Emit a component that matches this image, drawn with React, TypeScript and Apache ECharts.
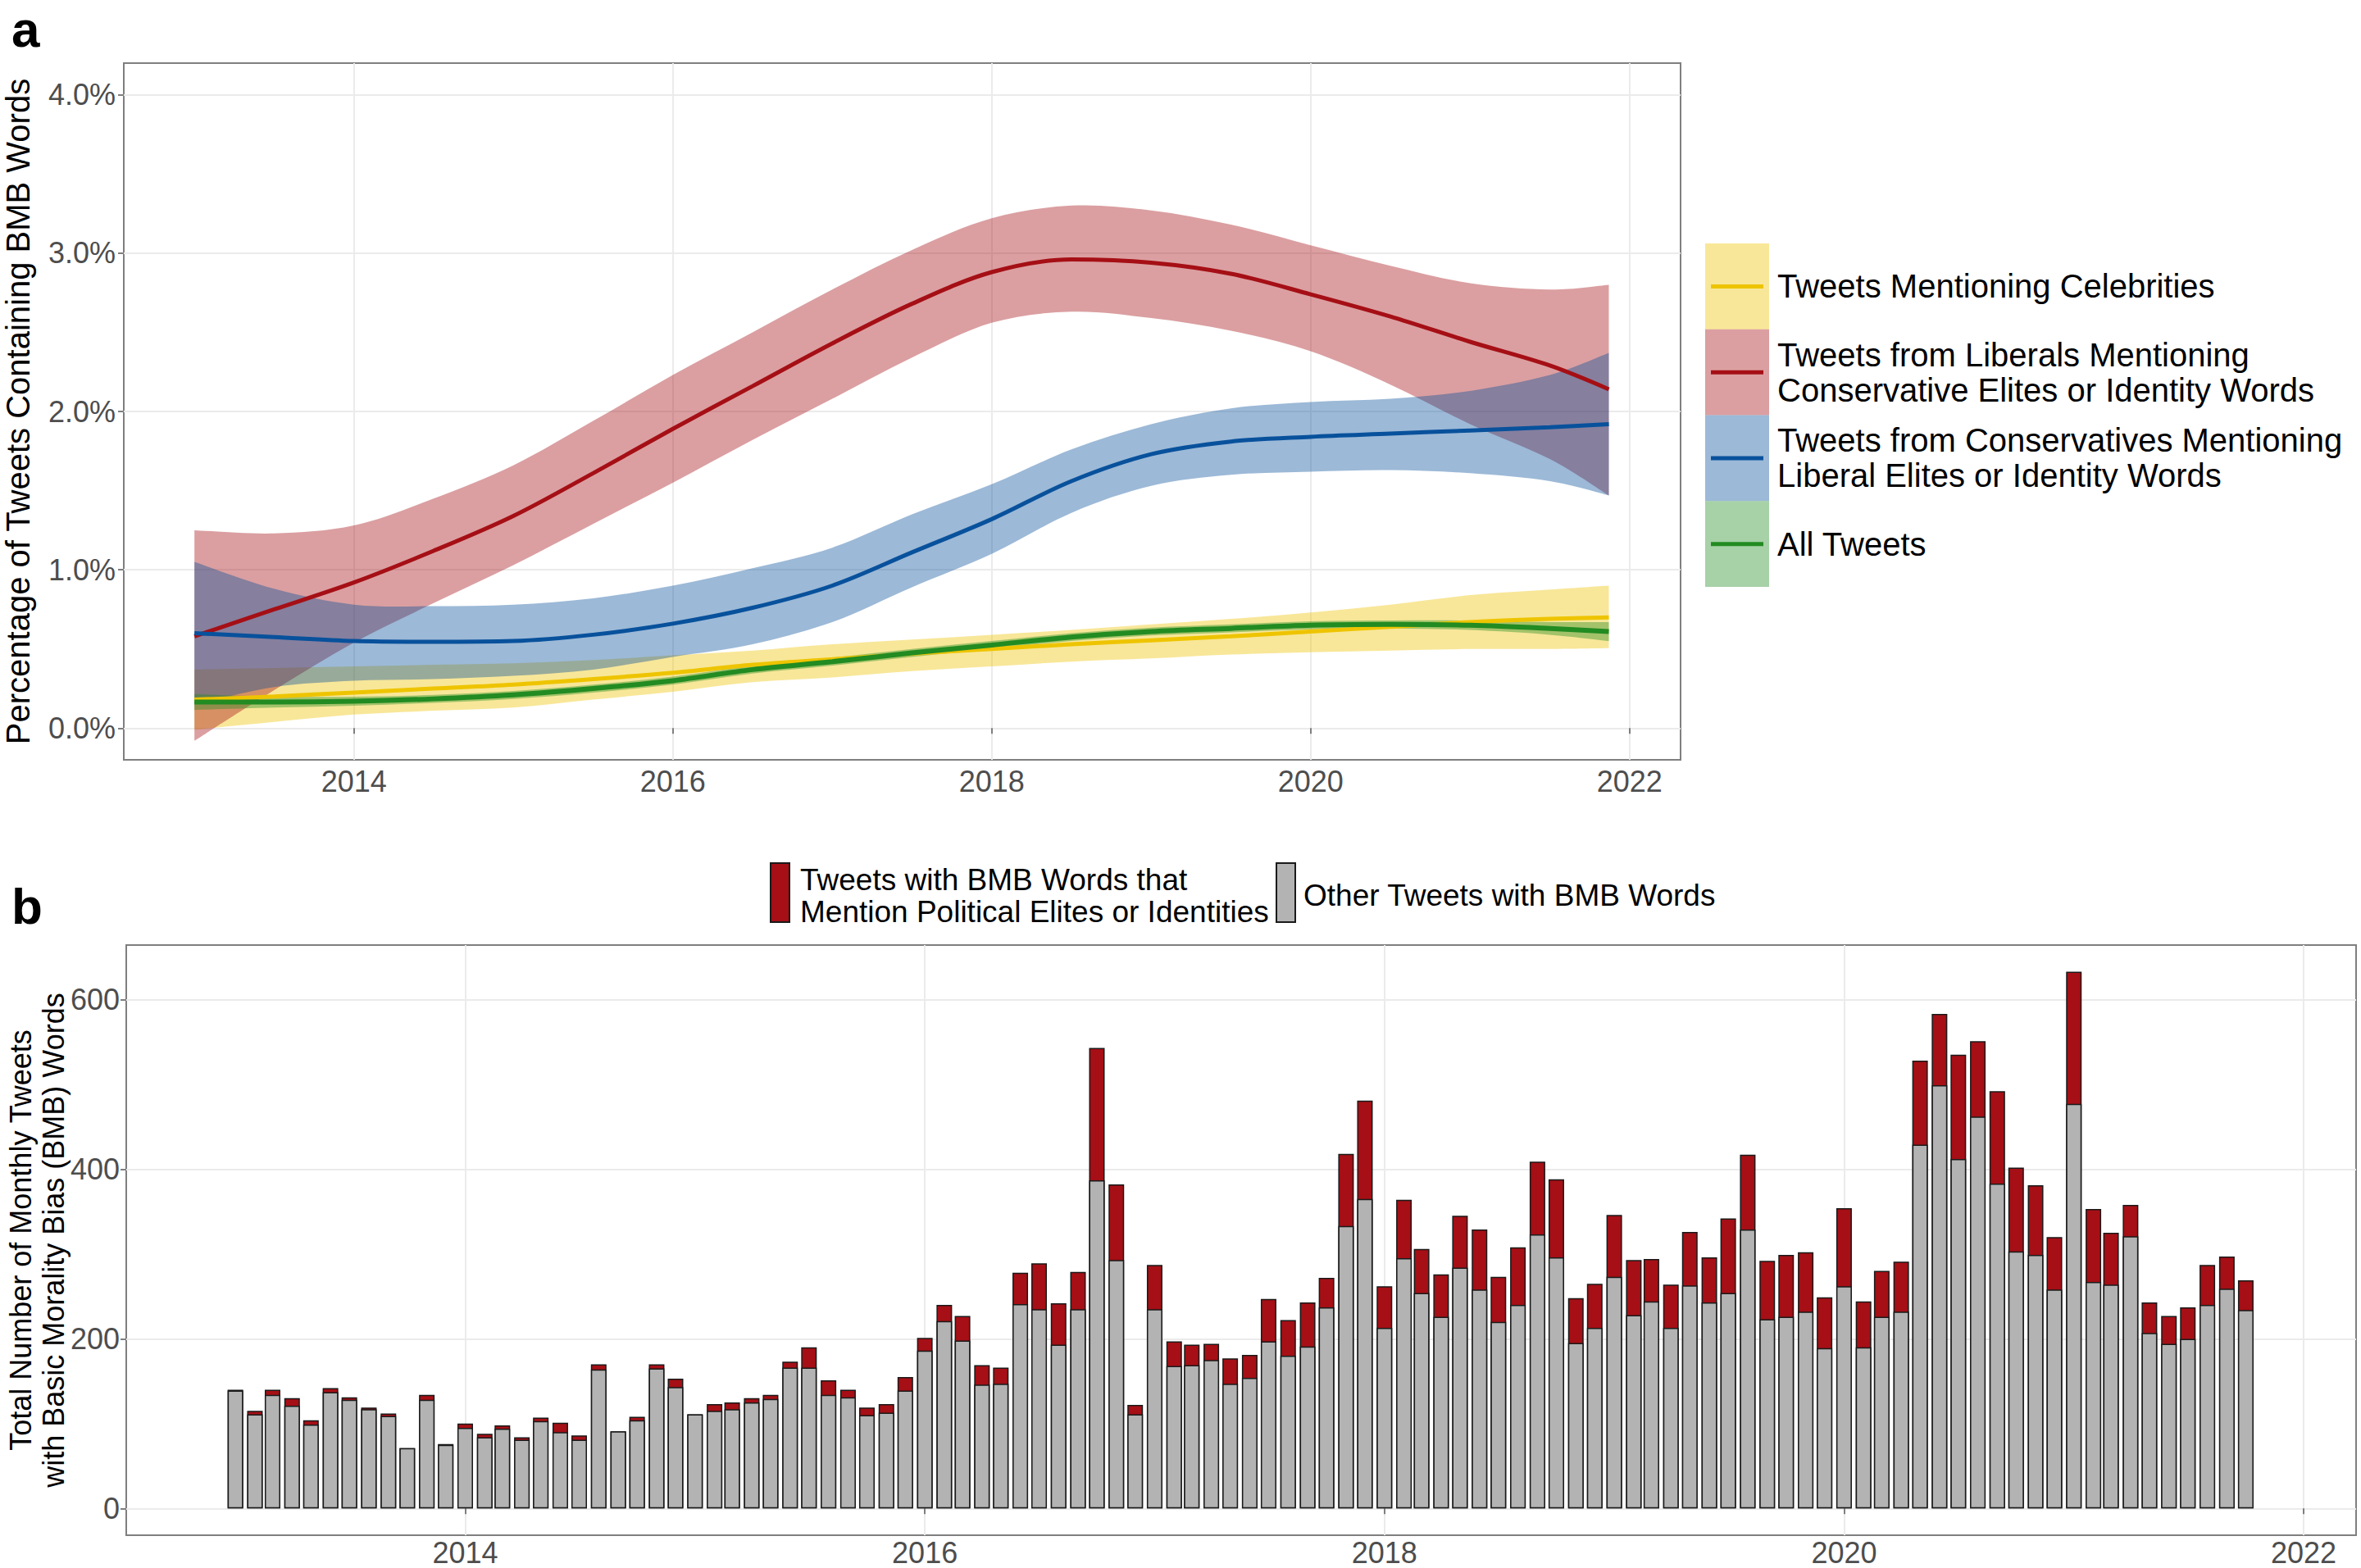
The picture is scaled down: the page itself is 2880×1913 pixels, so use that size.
import React, { useEffect, useRef } from 'react';
import * as echarts from 'echarts';

const FONT = '"Liberation Sans", Arial, Helvetica, sans-serif';

// ---------- Panel a: smoothed percentages (decimal years) ----------
const curveYears = [2013.0, 2013.5, 2014.0, 2014.5, 2015.0, 2015.5, 2016.0, 2016.5, 2017.0, 2017.5, 2018.0, 2018.5, 2019.0, 2019.5, 2020.0, 2020.5, 2021.0, 2021.5, 2021.87];

const celebMid = [0.18, 0.20, 0.225, 0.25, 0.275, 0.31, 0.35, 0.40, 0.435, 0.47, 0.50, 0.53, 0.555, 0.58, 0.61, 0.64, 0.67, 0.69, 0.70];
const celebLo = [-0.01, 0.04, 0.086, 0.11, 0.13, 0.18, 0.23, 0.29, 0.32, 0.36, 0.39, 0.42, 0.44, 0.465, 0.48, 0.49, 0.50, 0.50, 0.505];
const celebHi = [0.37, 0.38, 0.39, 0.40, 0.41, 0.43, 0.46, 0.49, 0.53, 0.56, 0.59, 0.62, 0.655, 0.69, 0.73, 0.78, 0.84, 0.875, 0.90];

const libMid = [0.58, 0.75, 0.92, 1.12, 1.34, 1.61, 1.89, 2.16, 2.43, 2.68, 2.88, 2.96, 2.94, 2.87, 2.74, 2.60, 2.44, 2.29, 2.14];
const libLo = [-0.08, 0.24, 0.54, 0.79, 1.03, 1.29, 1.55, 1.82, 2.08, 2.34, 2.56, 2.63, 2.59, 2.51, 2.38, 2.17, 1.92, 1.70, 1.47];
const libHi = [1.25, 1.23, 1.28, 1.45, 1.66, 1.94, 2.23, 2.50, 2.77, 3.02, 3.22, 3.30, 3.27, 3.18, 3.05, 2.92, 2.81, 2.77, 2.80];

const consMid = [0.60, 0.575, 0.55, 0.545, 0.55, 0.59, 0.66, 0.76, 0.90, 1.11, 1.32, 1.56, 1.73, 1.81, 1.84, 1.86, 1.88, 1.90, 1.92];
const consLo = [0.15, 0.26, 0.30, 0.31, 0.33, 0.37, 0.45, 0.53, 0.67, 0.89, 1.10, 1.36, 1.53, 1.60, 1.62, 1.63, 1.61, 1.56, 1.47];
const consHi = [1.05, 0.88, 0.78, 0.77, 0.78, 0.82, 0.90, 1.01, 1.14, 1.35, 1.54, 1.76, 1.92, 2.02, 2.06, 2.08, 2.13, 2.23, 2.37];

const allMid = [0.165, 0.165, 0.17, 0.185, 0.21, 0.25, 0.30, 0.37, 0.42, 0.475, 0.525, 0.575, 0.61, 0.63, 0.65, 0.655, 0.65, 0.63, 0.61];
const allLo = [0.115, 0.13, 0.142, 0.16, 0.185, 0.225, 0.275, 0.345, 0.395, 0.45, 0.50, 0.55, 0.585, 0.605, 0.625, 0.63, 0.62, 0.59, 0.55];
const allHi = [0.215, 0.20, 0.198, 0.21, 0.235, 0.275, 0.325, 0.395, 0.445, 0.50, 0.55, 0.60, 0.635, 0.655, 0.675, 0.68, 0.68, 0.67, 0.67];

const curveNames = [
  'Tweets Mentioning Celebrities',
  'Tweets from Liberals Mentioning Conservative Elites or Identity Words',
  'Tweets from Conservatives Mentioning Liberal Elites or Identity Words',
  'All Tweets',
];
const curveColors = ['#EEC400', '#A50F15', '#08519C', '#228B22'];
const bandColors = ['rgba(238,196,0,0.4)', 'rgba(165,15,21,0.4)', 'rgba(8,81,156,0.4)', 'rgba(34,139,34,0.4)'];

const aYearTicks = [2014, 2016, 2018, 2020, 2022];
const aPctTicks = [0, 1, 2, 3, 4];

// ---------- Panel b: monthly counts ----------
const barMonths = [
  '2013-01','2013-02','2013-03','2013-04','2013-05','2013-06','2013-07','2013-08','2013-09','2013-10','2013-11','2013-12',
  '2014-01','2014-02','2014-03','2014-04','2014-05','2014-06','2014-07','2014-08','2014-09','2014-10','2014-11','2014-12',
  '2015-01','2015-02','2015-03','2015-04','2015-05','2015-06','2015-07','2015-08','2015-09','2015-10','2015-11','2015-12',
  '2016-01','2016-02','2016-03','2016-04','2016-05','2016-06','2016-07','2016-08','2016-09','2016-10','2016-11','2016-12',
  '2017-01','2017-02','2017-03','2017-04','2017-05','2017-06','2017-07','2017-08','2017-09','2017-10','2017-11','2017-12',
  '2018-01','2018-02','2018-03','2018-04','2018-05','2018-06','2018-07','2018-08','2018-09','2018-10','2018-11','2018-12',
  '2019-01','2019-02','2019-03','2019-04','2019-05','2019-06','2019-07','2019-08','2019-09','2019-10','2019-11','2019-12',
  '2020-01','2020-02','2020-03','2020-04','2020-05','2020-06','2020-07','2020-08','2020-09','2020-10','2020-11','2020-12',
  '2021-01','2021-02','2021-03','2021-04','2021-05','2021-06','2021-07','2021-08','2021-09','2021-10',
];

const otherCounts = [
  139, 111, 134, 121, 99, 137, 128, 117, 109, 71, 128, 75,
  95, 84, 94, 81, 103, 90, 81, 164, 91, 104, 165, 143,
  111, 115, 117, 125, 129, 166, 166, 134, 131, 110, 113, 139,
  186, 221, 198, 146, 147, 241, 235, 193, 235, 387, 293, 111,
  235, 168, 169, 175, 147, 154, 197, 180, 191, 237, 333, 365,
  213, 295, 254, 226, 284, 258, 220, 240, 323, 296, 195, 213,
  273, 228, 244, 213, 263, 243, 254, 329, 223, 226, 232, 189,
  262, 190, 226, 232, 429, 499, 412, 462, 383, 303, 299, 258,
  477, 267, 264, 321, 207, 194, 200, 240, 259, 234,
];

const politicalCounts = [
  1, 4, 6, 9, 5, 5, 3, 2, 3, 0, 6, 1,
  5, 4, 4, 3, 4, 11, 5, 6, 0, 4, 5, 10,
  0, 8, 8, 5, 5, 7, 24, 17, 9, 9, 10, 16,
  15, 19, 29, 23, 19, 37, 54, 49, 44, 156, 89, 11,
  52, 29, 24, 19, 30, 27, 50, 42, 52, 35, 85, 116,
  49, 69, 52, 50, 61, 71, 53, 68, 86, 92, 53, 52,
  73, 65, 50, 51, 63, 53, 88, 88, 69, 73, 70, 60,
  92, 54, 54, 59, 99, 84, 123, 89, 109, 99, 82, 62,
  156, 86, 61, 37, 36, 33, 37, 47, 38, 35,
];

const bYearTicks = [2014, 2016, 2018, 2020, 2022];
const bCountTicks = [0, 200, 400, 600];
const bTitleLines = ['Total Number of Monthly Tweets', 'with Basic Morality Bias (BMB) Words'];

const toDecYear = (s: string) => {
  const [y, m] = s.split('-').map(Number);
  const start = Date.UTC(y, 0, 1);
  const end = Date.UTC(y + 1, 0, 1);
  return y + (Date.UTC(y, m - 1, 1) - start) / (end - start);
};

const GRID_A = { left: 151, top: 77, width: 1899, height: 850 };
const GRID_B = { left: 154, top: 1153, width: 2720, height: 720 };

// Catmull-Rom spline through screen points, as SVG path commands
function splinePath(pts: number[][], first: boolean) {
  let d = (first ? 'M' : 'L') + pts[0][0].toFixed(2) + ',' + pts[0][1].toFixed(2);
  for (let i = 0; i < pts.length - 1; i++) {
    const p0 = pts[i - 1] || pts[i];
    const p1 = pts[i];
    const p2 = pts[i + 1];
    const p3 = pts[i + 2] || pts[i + 1];
    const c1x = p1[0] + (p2[0] - p0[0]) / 6;
    const c1y = p1[1] + (p2[1] - p0[1]) / 6;
    const c2x = p2[0] - (p3[0] - p1[0]) / 6;
    const c2y = p2[1] - (p3[1] - p1[1]) / 6;
    d += ` C${c1x.toFixed(2)},${c1y.toFixed(2)} ${c2x.toFixed(2)},${c2y.toFixed(2)} ${p2[0].toFixed(2)},${p2[1].toFixed(2)}`;
  }
  return d;
}

function bandSeries(gi: number, lo: number[], hi: number[]) {
  return {
    type: 'custom', xAxisIndex: 0, yAxisIndex: 0, silent: true, clip: true,
    data: curveYears.map((x, i) => [x, lo[i], hi[i]]),
    encode: { x: 0, y: [1, 2] },
    renderItem: (params: any, api: any) => {
      if (params.dataIndexInside !== 0) return { type: 'group', children: [] };
      const n = params.dataInsideLength;
      const up: number[][] = [];
      const dn: number[][] = [];
      for (let i = 0; i < n; i++) {
        const x = api.value(0, i);
        up.push(api.coord([x, api.value(2, i)]));
        dn.push(api.coord([x, api.value(1, i)]));
      }
      const d = splinePath(up, true) + ' ' + splinePath(dn.reverse(), false) + ' Z';
      return { type: 'path', shape: { pathData: d }, style: { fill: bandColors[gi], stroke: null } };
    },
  };
}

function buildOption() {
  const groups = [
    [celebMid, celebLo, celebHi],
    [libMid, libLo, libHi],
    [consMid, consLo, consHi],
    [allMid, allLo, allHi],
  ];
  const series: any[] = [];
  groups.forEach(([mid, lo, hi], gi) => {
    series.push(bandSeries(gi, lo, hi));
    series.push({
      type: 'line', xAxisIndex: 0, yAxisIndex: 0, name: curveNames[gi],
      data: curveYears.map((x, i) => [x, mid[i]]),
      symbol: 'none', smooth: 0.33, silent: true,
      lineStyle: { color: curveColors[gi], width: gi === 3 ? 6 : 5 },
    });
  });

  const barX = barMonths.map(toDecYear);
  // full bar (political + other) in red, then the "other" part drawn over it in grey
  series.push({
    type: 'bar', xAxisIndex: 1, yAxisIndex: 1, name: 'Tweets with BMB Words that Mention Political Elites or Identities',
    data: barX.map((x, i) => [x, otherCounts[i] + politicalCounts[i]]), barWidth: 19, barGap: '-100%',
    itemStyle: { color: '#A50F15', borderColor: '#1a1a1a', borderWidth: 1.5 }, silent: true,
  });
  series.push({
    type: 'bar', xAxisIndex: 1, yAxisIndex: 1, name: 'Other Tweets with BMB Words',
    data: barX.map((x, i) => [x, otherCounts[i]]), barWidth: 19, barGap: '-100%',
    itemStyle: { color: '#B3B3B3', borderColor: '#1a1a1a', borderWidth: 1.5 }, silent: true,
  });

  const tickLabel = { fontSize: 36, color: '#4D4D4D', fontFamily: FONT };
  const splitLine = { show: true, lineStyle: { color: '#EBEBEB', width: 2 } };
  const tick = (vals: number[]) => ({ show: true, customValues: vals, length: 7, lineStyle: { color: '#7F7F7F', width: 2 } });

  const graphic: any[] = [];
  graphic.push({ type: 'text', left: 14, top: 4, style: { text: 'a', font: `bold 62px ${FONT}`, fill: '#000' } });
  graphic.push({ type: 'text', left: 14, top: 1074, style: { text: 'b', font: `bold 62px ${FONT}`, fill: '#000' } });

  // panel b y-axis title (two rotated lines)
  bTitleLines.forEach((t, li) => {
    graphic.push({
      type: 'text', x: 25 + li * 40, y: 1513, rotation: Math.PI / 2, silent: true,
      style: { text: t, font: `36px ${FONT}`, fill: '#000', align: 'center', verticalAlign: 'middle' },
    });
  });

  // panel a legend
  const keyX = 2080, keyW = 78, keyTop = 297, keyH = 104.75;
  const labelLines = [
    ['Tweets Mentioning Celebrities'],
    ['Tweets from Liberals Mentioning', 'Conservative Elites or Identity Words'],
    ['Tweets from Conservatives Mentioning', 'Liberal Elites or Identity Words'],
    ['All Tweets'],
  ];
  labelLines.forEach((lines, i) => {
    const cy = keyTop + keyH * i + keyH / 2;
    graphic.push({ type: 'rect', shape: { x: keyX, y: keyTop + keyH * i, width: keyW, height: keyH }, style: { fill: bandColors[i] }, silent: true });
    graphic.push({ type: 'line', shape: { x1: keyX + 7, y1: cy, x2: keyX + keyW - 7, y2: cy }, style: { stroke: curveColors[i], lineWidth: 5 }, silent: true });
    lines.forEach((t, li) => {
      const y = cy + (li - (lines.length - 1) / 2) * 43;
      graphic.push({ type: 'text', x: 2168, y, style: { text: t, font: `40px ${FONT}`, fill: '#000', verticalAlign: 'middle' }, silent: true });
    });
  });

  // panel b legend
  graphic.push({ type: 'rect', shape: { x: 940, y: 1053, width: 23, height: 72 }, style: { fill: '#A50F15', stroke: '#1a1a1a', lineWidth: 2 }, silent: true });
  graphic.push({ type: 'text', x: 976, y: 1073, style: { text: 'Tweets with BMB Words that', font: `37px ${FONT}`, fill: '#000', verticalAlign: 'middle' }, silent: true });
  graphic.push({ type: 'text', x: 976, y: 1112, style: { text: 'Mention Political Elites or Identities', font: `37px ${FONT}`, fill: '#000', verticalAlign: 'middle' }, silent: true });
  graphic.push({ type: 'rect', shape: { x: 1557, y: 1053, width: 23, height: 72 }, style: { fill: '#B3B3B3', stroke: '#1a1a1a', lineWidth: 2 }, silent: true });
  graphic.push({ type: 'text', x: 1590, y: 1092, style: { text: 'Other Tweets with BMB Words', font: `37px ${FONT}`, fill: '#000', verticalAlign: 'middle' }, silent: true });

  return {
    animation: false,
    backgroundColor: '#ffffff',
    textStyle: { fontFamily: FONT },
    grid: [
      { ...GRID_A, show: true, borderColor: '#7F7F7F', borderWidth: 2, outerBoundsMode: 'none', containLabel: false },
      { ...GRID_B, show: true, borderColor: '#7F7F7F', borderWidth: 2, outerBoundsMode: 'none', containLabel: false },
    ],
    xAxis: [
      {
        type: 'value', gridIndex: 0, min: 2012.557, max: 2022.32,
        axisLine: { show: false }, axisTick: tick(aYearTicks),
        axisLabel: { ...tickLabel, customValues: aYearTicks, margin: 8, formatter: (v: number) => String(Math.round(v)) },
        splitLine,
      },
      {
        type: 'value', gridIndex: 1, min: 2012.525, max: 2022.228,
        axisLine: { show: false }, axisTick: tick(bYearTicks),
        axisLabel: { ...tickLabel, lineHeight: 34, customValues: bYearTicks, margin: 4, formatter: (v: number) => String(Math.round(v)) },
        splitLine,
      },
    ],
    yAxis: [
      {
        type: 'value', gridIndex: 0, min: -0.2, max: 4.2,
        axisLine: { show: false }, axisTick: tick(aPctTicks),
        axisLabel: { ...tickLabel, customValues: aPctTicks, margin: 10, formatter: (v: number) => v.toFixed(1) + '%' },
        splitLine,
        name: 'Percentage of Tweets Containing BMB Words', nameLocation: 'middle', nameGap: 109,
        nameTextStyle: { fontSize: 40, color: '#000', fontFamily: FONT },
      },
      {
        type: 'value', gridIndex: 1, min: -31.6, max: 664.3,
        axisLine: { show: false }, axisTick: tick(bCountTicks),
        axisLabel: { ...tickLabel, customValues: bCountTicks, margin: 8, formatter: (v: number) => String(Math.round(v)) },
        splitLine,
      },
    ],
    series,
    graphic,
  };
}

export default function App() {
  const ref = useRef<HTMLDivElement>(null);
  useEffect(() => {
    document.body.style.margin = '0';
    const chart = echarts.init(ref.current!, undefined, { renderer: 'svg' });
    chart.setOption(buildOption() as any);
    return () => chart.dispose();
  }, []);
  return <div ref={ref} style={{ position: 'fixed', left: 0, top: 0, width: 2880, height: 1913, background: '#fff' }} />;
}
